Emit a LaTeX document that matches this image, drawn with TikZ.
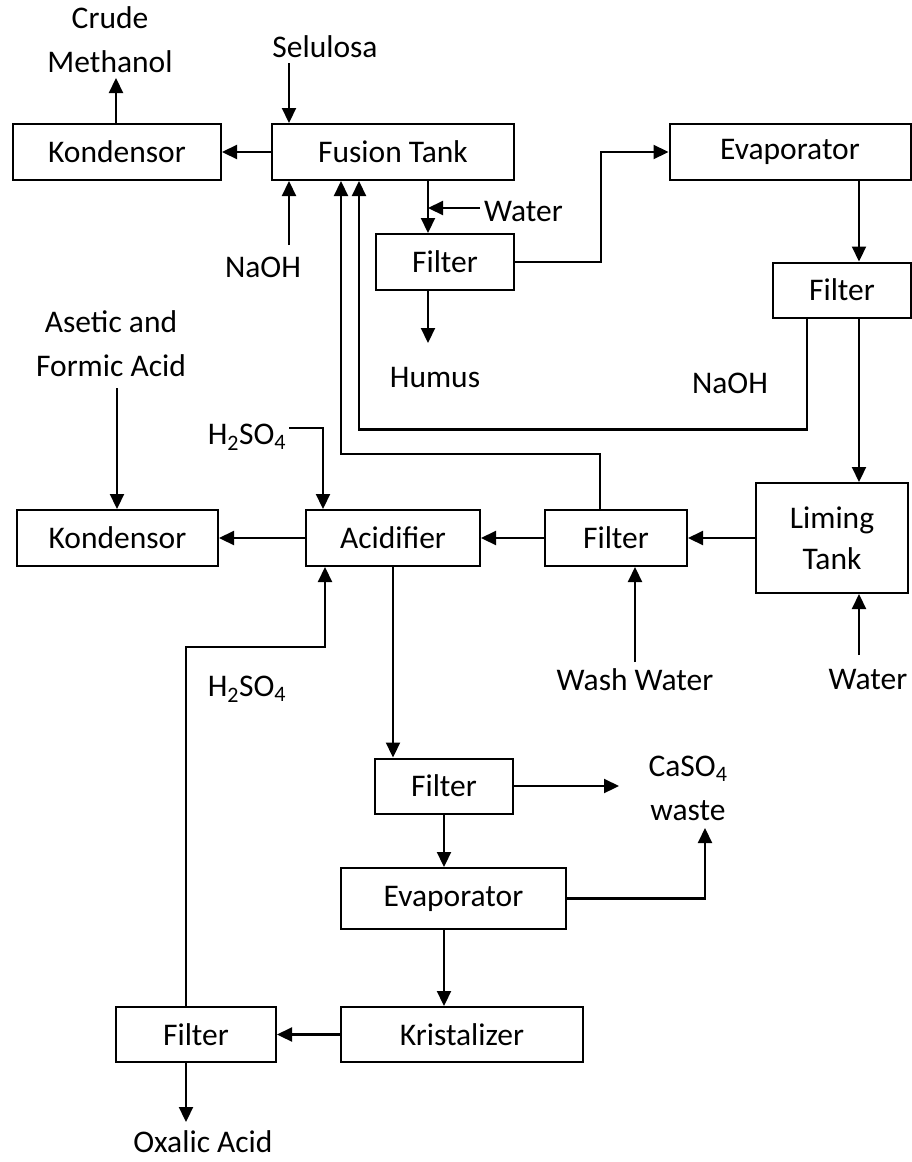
\documentclass[tikz,border=0pt]{standalone}
\usepackage{fontspec}
\setmainfont{Carlito}
\usetikzlibrary{arrows.meta}
\begin{document}
\begin{tikzpicture}[x=1pt,y=-1pt,
  box/.style={draw,line width=2pt,inner sep=0pt,minimum height=56pt,align=center},
  lbl/.style={inner sep=0pt,align=center},
  arr/.style={line width=2.2pt,-{Triangle[length=15pt,width=14pt]}},
  every node/.style={font=\fontsize{31.5}{44}\selectfont}]
\useasboundingbox (0,0) rectangle (912,1162);
% boxes
\node[box,minimum width=208pt] (kond1) at (117,152) {Kondensor};
\node[box,minimum width=242pt] (fusion) at (393,152) {Fusion Tank};
\node[box,minimum width=138pt] (filt1) at (445,262) {Filter};
\node[box,minimum width=241pt] (evap1) at (790,152) {Evaporator};
\node[box,minimum width=138pt,minimum height=55pt] (filt2) at (842,290) {Filter};
\node[box,minimum width=152pt,minimum height=110pt] (liming) at (832,538) {Liming\\[-3pt]Tank};
\node[box,minimum width=142pt] (filt3) at (616,538) {Filter};
\node[box,minimum width=174pt] (acid) at (393,538) {Acidifier};
\node[box,minimum width=201pt] (kond2) at (117.5,538) {Kondensor};
\node[box,minimum width=138pt,minimum height=55pt] (filt4) at (444,786) {Filter};
\node[box,minimum width=225pt,minimum height=61pt] (evap2) at (453.5,898.5) {Evaporator};
\node[box,minimum width=242pt,minimum height=55pt] (krist) at (462,1034.5) {Kristalizer};
\node[box,minimum width=160pt,minimum height=55pt] (filt5) at (196,1034.5) {Filter};
% labels
\node[lbl] (methanol) at (110,40) {Crude\\Methanol};
\node[lbl] (selulosa) at (325,47) {Selulosa};
\node[lbl] (naoh1) at (263,267) {NaOH};
\node[lbl,anchor=west] (water1) at (484,212) {Water};
\node[lbl] (humus) at (435,378) {Humus};
\node[lbl] (naoh2) at (730,383) {NaOH};
\node[lbl] (asetic) at (111,344) {Asetic and\\Formic Acid};
\node[lbl] (h2so4a) at (247,437) {H\textsubscript{2}SO\textsubscript{4}};
\node[lbl] (h2so4b) at (247,689) {H\textsubscript{2}SO\textsubscript{4}};
\node[lbl] (wash) at (635,680) {Wash Water};
\node[lbl] (water2) at (868,680) {Water};
\node[lbl] (caso4) at (688,788) {CaSO\textsubscript{4}\\waste};
\node[lbl] (oxalic) at (203,1142) {Oxalic Acid};
% free ends
\coordinate (methA) at (116,78);
\coordinate (selA) at (289,63);
\coordinate (naohA) at (289,245);
\coordinate (fo) at ([xshift=35pt]fusion.south);
\coordinate (w1) at (480,208);
\coordinate (humA) at (428,343);
\coordinate (asA) at (117,388);
\coordinate (h1) at (289,428);
\coordinate (washA) at (635,662);
\coordinate (wat2A) at (859,655);
\coordinate (caA) at (619,786);
\coordinate (waA) at (705,828);
\coordinate (oxA) at (186,1122);
% connectors top
\draw[arr] (kond1.north -| methA) -- (methA);
\draw[arr] (selA) -- (selA |- fusion.north);
\draw[arr] (naohA) -- (naohA |- fusion.south);
\draw[arr] (fusion.west) -- (kond1.east);
\draw[arr] (fo) -- (fo |- filt1.north);
\draw[arr] (w1) -- (w1 -| fo);
\draw[arr] (fo |- filt1.south) -- (humA);
\draw[arr] (filt1.east) -- ++(86,0) |- (evap1.west);
\draw[arr] ([xshift=69pt]evap1.south) -- ([xshift=17pt]filt2.north);
\draw[arr] ([xshift=17pt]filt2.south) -- ([xshift=27pt]liming.north);
\draw[arr] ([xshift=-35pt]filt2.south) -- ++(0,111) -| ([xshift=-34pt]fusion.south);
\draw[arr] ([xshift=-16pt]filt3.north) -- ++(0,-55) -| ([xshift=-52pt]fusion.south);
% middle row
\draw[arr] (liming.west) -- (filt3.east);
\draw[arr] (filt3.west) -- (acid.east);
\draw[arr] (acid.west) -- (kond2.east);
\draw[arr] (asA) -- (asA |- kond2.north);
\draw[arr] (h1) -| ([xshift=-70pt]acid.north);
\draw[arr] (washA) -- (washA |- filt3.south);
\draw[arr] (wat2A) -- (wat2A |- liming.south);
\draw[arr] ([xshift=-10pt]filt5.north) -- ++(0,-359) -| ([xshift=-68pt]acid.south);
% bottom
\draw[arr] (acid.south) -- (acid.south |- filt4.north);
\draw[arr] (filt4.east) -- (caA);
\draw[arr] (filt4.south) -- (filt4.south |- evap2.north);
\draw[arr] (evap2.east) -| (waA);
\draw[arr] (filt4.south |- evap2.south) -- (filt4.south |- krist.north);
\draw[arr] (krist.west) -- (filt5.east);
\draw[arr] (oxA |- filt5.south) -- (oxA);
\end{tikzpicture}
\end{document}
